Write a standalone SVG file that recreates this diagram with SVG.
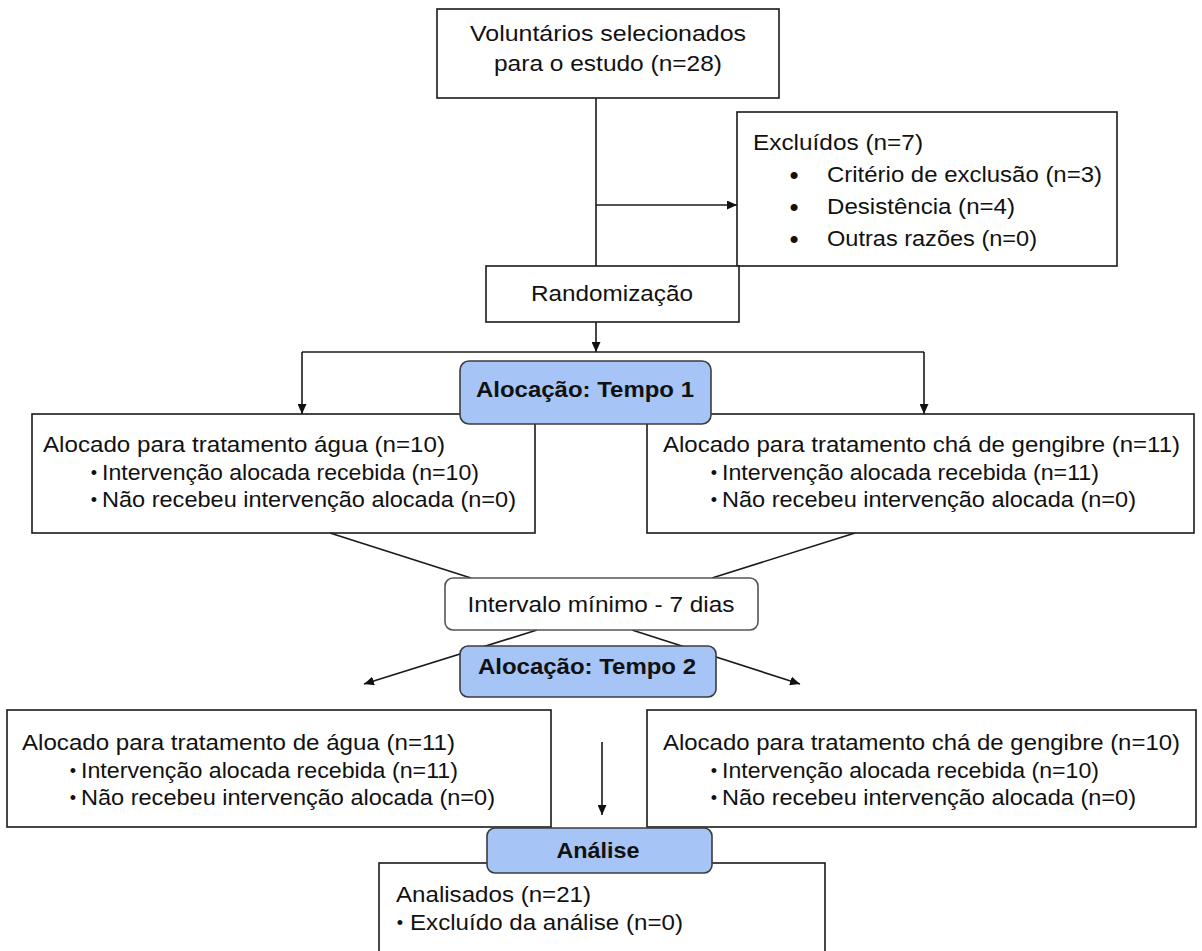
<svg xmlns="http://www.w3.org/2000/svg" width="1202" height="951" viewBox="0 0 1202 951">
<defs>
<marker id="arr" markerUnits="userSpaceOnUse" markerWidth="11" markerHeight="9" refX="10" refY="4.5" orient="auto">
<path d="M0,0 L10,4.5 L0,9 z" fill="#111"/>
</marker>
<style>
.box{fill:#fff;stroke:#1a1a1a;stroke-width:1.6}
.blue{fill:#a6c4f6;stroke:#3c3c3c;stroke-width:1.6}
.gray{fill:#fff;stroke:#555;stroke-width:1.6}
.ln{fill:none;stroke:#1a1a1a;stroke-width:1.6}
.ar{fill:none;stroke:#1a1a1a;stroke-width:1.6;marker-end:url(#arr)}
text{font-family:"Liberation Sans",Arial,sans-serif;font-size:22px;fill:#111}
.c{text-anchor:middle}
.b{font-weight:bold}
.sb{font-size:18px;text-anchor:middle}
.bb{font-size:26px;text-anchor:middle}
</style>
</defs>
<rect width="1202" height="951" fill="#fff"/>
<g id="connectors">
<line class="ln" x1="596" y1="98" x2="596" y2="266"/>
<line class="ar" x1="596" y1="205" x2="737" y2="205"/>
<line class="ar" x1="596" y1="322" x2="596" y2="352"/>
<line class="ln" x1="302" y1="352" x2="924" y2="352"/>
<line class="ar" x1="302" y1="352" x2="302" y2="414"/>
<line class="ar" x1="924" y1="352" x2="924" y2="414"/>
<line class="ln" x1="330" y1="533" x2="471" y2="578"/>
<line class="ln" x1="855" y1="533" x2="712" y2="578"/>
<line class="ar" x1="537" y1="630" x2="364" y2="684"/>
<line class="ar" x1="632" y1="630" x2="800" y2="684"/>
<line class="ar" x1="602" y1="742" x2="602" y2="815"/>
</g>
<g id="voluntarios">
<rect class="box" x="437" y="9" width="342" height="89"/>
<text class="c" x="608" y="41" textLength="276" lengthAdjust="spacingAndGlyphs">Voluntários selecionados</text>
<text class="c" x="608" y="71" textLength="228" lengthAdjust="spacingAndGlyphs">para o estudo (n=28)</text>
</g>
<g id="excluidos">
<rect class="box" x="737" y="112" width="380" height="154"/>
<text x="753" y="150" textLength="170" lengthAdjust="spacingAndGlyphs">Excluídos (n=7)</text>
<text class="bb" x="794" y="184">•</text>
<text x="827" y="182" textLength="275" lengthAdjust="spacingAndGlyphs">Critério de exclusão (n=3)</text>
<text class="bb" x="794" y="216">•</text>
<text x="827" y="214" textLength="188" lengthAdjust="spacingAndGlyphs">Desistência (n=4)</text>
<text class="bb" x="794" y="248">•</text>
<text x="827" y="246" textLength="210" lengthAdjust="spacingAndGlyphs">Outras razões (n=0)</text>
</g>
<g id="randomizacao">
<rect class="box" x="486" y="266" width="253" height="56"/>
<text class="c" x="612" y="301" textLength="162" lengthAdjust="spacingAndGlyphs">Randomização</text>
</g>
<g id="agua1">
<rect class="box" x="32" y="414" width="503" height="119"/>
<text x="43" y="452" textLength="402" lengthAdjust="spacingAndGlyphs">Alocado para tratamento água (n=10)</text>
<text class="sb" x="94" y="479">•</text>
<text x="102" y="480" textLength="377" lengthAdjust="spacingAndGlyphs">Intervenção alocada recebida (n=10)</text>
<text class="sb" x="94" y="506">•</text>
<text x="102" y="507" textLength="414" lengthAdjust="spacingAndGlyphs">Não recebeu intervenção alocada (n=0)</text>
</g>
<g id="gengibre1">
<rect class="box" x="647" y="414" width="547" height="119"/>
<text x="663" y="452" textLength="517" lengthAdjust="spacingAndGlyphs">Alocado para tratamento chá de gengibre (n=11)</text>
<text class="sb" x="714" y="479">•</text>
<text x="722" y="480" textLength="377" lengthAdjust="spacingAndGlyphs">Intervenção alocada recebida (n=11)</text>
<text class="sb" x="714" y="506">•</text>
<text x="722" y="507" textLength="414" lengthAdjust="spacingAndGlyphs">Não recebeu intervenção alocada (n=0)</text>
</g>
<g id="tempo1">
<rect class="blue" x="460" y="361" width="251" height="63" rx="9"/>
<text class="c b" x="585" y="397" textLength="218" lengthAdjust="spacingAndGlyphs">Alocação: Tempo 1</text>
</g>
<g id="intervalo">
<rect class="gray" x="445" y="578" width="313" height="52" rx="8"/>
<text class="c" x="601" y="612" textLength="267" lengthAdjust="spacingAndGlyphs">Intervalo mínimo - 7 dias</text>
</g>
<g id="tempo2">
<rect class="blue" x="460" y="646" width="256" height="51" rx="8"/>
<text class="c b" x="587" y="674" textLength="218" lengthAdjust="spacingAndGlyphs">Alocação: Tempo 2</text>
</g>
<g id="agua2">
<rect class="box" x="7" y="710" width="544" height="117"/>
<text x="22" y="750" textLength="433" lengthAdjust="spacingAndGlyphs">Alocado para tratamento de água (n=11)</text>
<text class="sb" x="73" y="777">•</text>
<text x="81" y="778" textLength="377" lengthAdjust="spacingAndGlyphs">Intervenção alocada recebida (n=11)</text>
<text class="sb" x="73" y="804">•</text>
<text x="81" y="805" textLength="414" lengthAdjust="spacingAndGlyphs">Não recebeu intervenção alocada (n=0)</text>
</g>
<g id="gengibre2">
<rect class="box" x="647" y="710" width="549" height="117"/>
<text x="663" y="750" textLength="517" lengthAdjust="spacingAndGlyphs">Alocado para tratamento chá de gengibre (n=10)</text>
<text class="sb" x="714" y="777">•</text>
<text x="722" y="778" textLength="377" lengthAdjust="spacingAndGlyphs">Intervenção alocada recebida (n=10)</text>
<text class="sb" x="714" y="804">•</text>
<text x="722" y="805" textLength="414" lengthAdjust="spacingAndGlyphs">Não recebeu intervenção alocada (n=0)</text>
</g>
<g id="analisados">
<rect class="box" x="379" y="863" width="446" height="110"/>
<text x="396" y="902" textLength="195" lengthAdjust="spacingAndGlyphs">Analisados (n=21)</text>
<text class="sb" x="400" y="929">•</text>
<text x="410" y="930" textLength="273" lengthAdjust="spacingAndGlyphs">Excluído da análise (n=0)</text>
</g>
<g id="analise">
<rect class="blue" x="487" y="828" width="225" height="45" rx="8"/>
<text class="c b" x="598" y="858" textLength="83" lengthAdjust="spacingAndGlyphs">Análise</text>
</g>
</svg>
